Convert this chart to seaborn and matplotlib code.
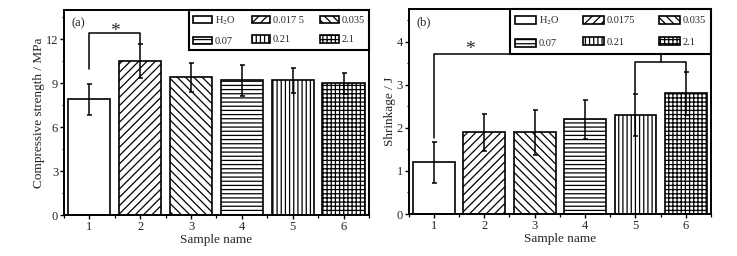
import numpy as np
import pandas as pd
import matplotlib
matplotlib.use("Agg")
import matplotlib.pyplot as plt
from matplotlib.ticker import MultipleLocator
import seaborn as sns

# ------------------------------------------
# Data
# ------------------------------------------
samples = ["1", "2", "3", "4", "5", "6"]
labels_a = ["H$_2$O", "0.017 5", "0.035", "0.07", "0.21", "2.1"]
labels_b = ["H$_2$O", "0.0175", "0.035", "0.07", "0.21", "2.1"]
hatches = ["", "////", "\\\\\\\\", "----", "||||", "++++"]

strength = [7.9, 10.5, 9.4, 9.2, 9.2, 9.0]
strength_err = [1.07, 1.16, 1.0, 1.05, 0.85, 0.73]

shrink = [1.2, 1.9, 1.9, 2.2, 2.3, 2.8]
shrink_err = [0.47, 0.43, 0.52, 0.45, 0.48, 0.5]

sns.set_theme(style="ticks")
plt.rcParams["font.family"] = ["Liberation Serif", "DejaVu Serif"]
plt.rcParams["mathtext.fontset"] = "stix"
plt.rcParams["hatch.linewidth"] = 0.9
plt.rcParams["hatch.color"] = "black"


def draw_panel(ax, values, errs, ylim, ymajor, ylabel, ylabelpad, tag, labels,
               col_spacing, handle_len, label_sp, border_pad):
    df = pd.DataFrame({"sample": samples, "value": values})
    sns.barplot(data=df, x="sample", y="value", color="white",
                edgecolor="black", linewidth=1.2, width=0.83,
                errorbar=None, ax=ax, saturation=1)
    bars = list(ax.patches)
    for bar, h in zip(bars, hatches):
        bar.set_facecolor("white")
        bar.set_hatch(h)
    ax.errorbar(np.arange(len(samples)), values, yerr=errs, fmt="none",
                ecolor="black", elinewidth=1.1, capsize=1.8, capthick=1.1)

    ax.set_xlim(-0.5, len(samples) - 0.5)
    ax.set_ylim(*ylim)
    ax.yaxis.set_major_locator(MultipleLocator(ymajor))
    ax.yaxis.set_minor_locator(MultipleLocator(ymajor / 2))
    ax.xaxis.set_minor_locator(MultipleLocator(0.5))
    ax.tick_params(which="major", direction="out", length=3, width=1.0,
                   labelsize=9, pad=1.2, color="black")
    ax.tick_params(which="minor", direction="out", length=1.8, width=0.9,
                   color="black")
    ax.tick_params(axis="x", which="major", pad=1.5)
    for sp in ax.spines.values():
        sp.set_visible(True)
        sp.set_linewidth(1.4)
        sp.set_color("black")
    ax.set_xlabel("Sample name", fontsize=9.5, labelpad=0.3)
    ax.set_ylabel(ylabel, fontsize=9.5, labelpad=ylabelpad)
    ax.text(0.025, 0.935, tag, transform=ax.transAxes, fontsize=9,
            va="center", ha="left")

    order = [0, 3, 1, 4, 2, 5]
    leg = ax.legend([bars[i] for i in order], [labels[i] for i in order],
                    ncol=3, loc="upper right", bbox_to_anchor=(1.0, 1.0),
                    borderaxespad=0, fontsize=7.5, frameon=True,
                    fancybox=False, handlelength=handle_len,
                    handleheight=0.75, handletextpad=0.25,
                    columnspacing=col_spacing, labelspacing=label_sp,
                    borderpad=border_pad)
    frame = leg.get_frame()
    frame.set_edgecolor("black")
    frame.set_linewidth(1.5)
    frame.set_alpha(1)
    return bars


fig = plt.figure(figsize=(7.37, 2.56), dpi=100)
ax_a = fig.add_axes([0.0868, 0.160, 0.4139, 0.801])
ax_b = fig.add_axes([0.5546, 0.164, 0.4101, 0.800])

draw_panel(ax_a, strength, strength_err, (0, 14), 3,
           "Compressive strength / MPa", 0.5, "(a)", labels_a,
           col_spacing=1.55, handle_len=1.8, label_sp=0.95, border_pad=0.4)
draw_panel(ax_b, shrink, shrink_err, (0, 4.75), 1,
           "Shrinkage / J", 0.5, "(b)", labels_b,
           col_spacing=2.3, handle_len=2.0, label_sp=1.15, border_pad=0.5)

# significance bracket (a): sample 1 vs 2
top1 = strength[0] + strength_err[0]
top2 = strength[1] + strength_err[1]
yb = top2 + 0.75
ax_a.plot([0, 0, 1, 1], [top1 + 1.0, yb, yb, top2 + 0.05],
          color="black", lw=1.1)
ax_a.text(0.5, yb - 0.2, "*", ha="center", va="baseline", fontsize=14)

# significance bracket (b): sample 1 vs 5/6
up = [v + e for v, e in zip(shrink, shrink_err)]
y_low = max(up[4], up[5]) + 0.22
y_high = y_low + 0.18
ax_b.plot([4, 4, 5, 5], [up[4] + 0.03, y_low, y_low, up[5] - 0.02],
          color="black", lw=1.1)
ax_b.plot([0, 0, 4.5, 4.5], [up[0] + 0.1, y_high, y_high, y_low],
          color="black", lw=1.1)
ax_b.text(0.72, y_high, "*", ha="center", va="baseline", fontsize=14)

fig.savefig("out.png", dpi=100)
